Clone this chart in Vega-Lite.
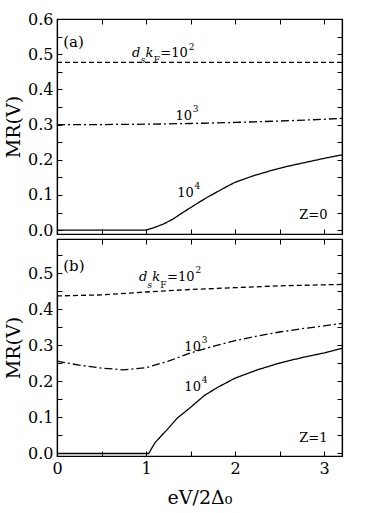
{
  "$schema": "https://vega.github.io/schema/vega-lite/v6.json",
  "padding": {"left": 3, "top": 10, "right": 5, "bottom": 5},
  "spacing": -4,
  "background": "white",
  "config": {
    "font": "DejaVu Serif",
    "view": {"stroke": "black", "strokeWidth": 1.2},
    "text": {"font": "DejaVu Serif"},
    "axis": {
      "domainColor": "black", "domainWidth": 1.2, "tickColor": "black", "tickWidth": 1, "tickSize": -5,
      "labelPadding": 9, "labelFont": "DejaVu Serif", "labelFontSize": 16, "labelColor": "black",
      "titleFont": "DejaVu Serif", "titleFontSize": 19, "titleFontWeight": "normal", "titleColor": "black",
      "grid": false, "labelFlush": false, "labelOverlap": false
    }
  },
  "datasets": {
    "curves": [
      {"panel": "a", "series": "1e2", "x": 0, "y": 0.477},
      {"panel": "a", "series": "1e2", "x": 1.6, "y": 0.477},
      {"panel": "a", "series": "1e2", "x": 3.2, "y": 0.477},
      {"panel": "a", "series": "1e3", "x": 0, "y": 0.300},
      {"panel": "a", "series": "1e3", "x": 0.5, "y": 0.300},
      {"panel": "a", "series": "1e3", "x": 1.0, "y": 0.301},
      {"panel": "a", "series": "1e3", "x": 1.5, "y": 0.303},
      {"panel": "a", "series": "1e3", "x": 2.0, "y": 0.306},
      {"panel": "a", "series": "1e3", "x": 2.5, "y": 0.310},
      {"panel": "a", "series": "1e3", "x": 3.0, "y": 0.315},
      {"panel": "a", "series": "1e3", "x": 3.2, "y": 0.318},
      {"panel": "a", "series": "1e4", "x": 0, "y": 0},
      {"panel": "a", "series": "1e4", "x": 1.0, "y": 0},
      {"panel": "a", "series": "1e4", "x": 1.1, "y": 0.008},
      {"panel": "a", "series": "1e4", "x": 1.2, "y": 0.018},
      {"panel": "a", "series": "1e4", "x": 1.3, "y": 0.031},
      {"panel": "a", "series": "1e4", "x": 1.4, "y": 0.048},
      {"panel": "a", "series": "1e4", "x": 1.5, "y": 0.064},
      {"panel": "a", "series": "1e4", "x": 1.6, "y": 0.080},
      {"panel": "a", "series": "1e4", "x": 1.7, "y": 0.095},
      {"panel": "a", "series": "1e4", "x": 1.8, "y": 0.109},
      {"panel": "a", "series": "1e4", "x": 1.9, "y": 0.123},
      {"panel": "a", "series": "1e4", "x": 2.0, "y": 0.136},
      {"panel": "a", "series": "1e4", "x": 2.2, "y": 0.154},
      {"panel": "a", "series": "1e4", "x": 2.4, "y": 0.169},
      {"panel": "a", "series": "1e4", "x": 2.6, "y": 0.182},
      {"panel": "a", "series": "1e4", "x": 2.8, "y": 0.193},
      {"panel": "a", "series": "1e4", "x": 3.0, "y": 0.204},
      {"panel": "a", "series": "1e4", "x": 3.2, "y": 0.214},
      {"panel": "b", "series": "1e2", "x": 0, "y": 0.437},
      {"panel": "b", "series": "1e2", "x": 0.5, "y": 0.440},
      {"panel": "b", "series": "1e2", "x": 1.0, "y": 0.448},
      {"panel": "b", "series": "1e2", "x": 1.5, "y": 0.455},
      {"panel": "b", "series": "1e2", "x": 2.0, "y": 0.460},
      {"panel": "b", "series": "1e2", "x": 2.5, "y": 0.465},
      {"panel": "b", "series": "1e2", "x": 3.0, "y": 0.468},
      {"panel": "b", "series": "1e2", "x": 3.2, "y": 0.469},
      {"panel": "b", "series": "1e3", "x": 0, "y": 0.256},
      {"panel": "b", "series": "1e3", "x": 0.25, "y": 0.245},
      {"panel": "b", "series": "1e3", "x": 0.5, "y": 0.237},
      {"panel": "b", "series": "1e3", "x": 0.75, "y": 0.232},
      {"panel": "b", "series": "1e3", "x": 1.0, "y": 0.238},
      {"panel": "b", "series": "1e3", "x": 1.25, "y": 0.256},
      {"panel": "b", "series": "1e3", "x": 1.5, "y": 0.279},
      {"panel": "b", "series": "1e3", "x": 1.75, "y": 0.297},
      {"panel": "b", "series": "1e3", "x": 2.0, "y": 0.313},
      {"panel": "b", "series": "1e3", "x": 2.25, "y": 0.326},
      {"panel": "b", "series": "1e3", "x": 2.5, "y": 0.337},
      {"panel": "b", "series": "1e3", "x": 2.75, "y": 0.346},
      {"panel": "b", "series": "1e3", "x": 3.0, "y": 0.354},
      {"panel": "b", "series": "1e3", "x": 3.2, "y": 0.361},
      {"panel": "b", "series": "1e4", "x": 0, "y": 0},
      {"panel": "b", "series": "1e4", "x": 1.03, "y": 0},
      {"panel": "b", "series": "1e4", "x": 1.1, "y": 0.03},
      {"panel": "b", "series": "1e4", "x": 1.24, "y": 0.067},
      {"panel": "b", "series": "1e4", "x": 1.35, "y": 0.098},
      {"panel": "b", "series": "1e4", "x": 1.5, "y": 0.128},
      {"panel": "b", "series": "1e4", "x": 1.65, "y": 0.16},
      {"panel": "b", "series": "1e4", "x": 1.8, "y": 0.183},
      {"panel": "b", "series": "1e4", "x": 2.0, "y": 0.209},
      {"panel": "b", "series": "1e4", "x": 2.25, "y": 0.232},
      {"panel": "b", "series": "1e4", "x": 2.5, "y": 0.251},
      {"panel": "b", "series": "1e4", "x": 2.75, "y": 0.266},
      {"panel": "b", "series": "1e4", "x": 3.0, "y": 0.279},
      {"panel": "b", "series": "1e4", "x": 3.2, "y": 0.292}
    ],
    "ann": [
      {"panel": "a", "kind": "label", "x": 0.07, "y": 0.535, "text": "(a)"},
      {"panel": "a", "kind": "it", "x": 0.843, "y": 0.492, "text": "d"},
      {"panel": "a", "kind": "subit", "x": 0.94, "y": 0.474, "text": "s"},
      {"panel": "a", "kind": "it", "x": 0.995, "y": 0.492, "text": "k"},
      {"panel": "a", "kind": "small", "x": 1.085, "y": 0.474, "text": "F"},
      {"panel": "a", "kind": "rm", "x": 1.16, "y": 0.492, "text": "=10"},
      {"panel": "a", "kind": "small", "x": 1.48, "y": 0.513, "text": "2"},
      {"panel": "a", "kind": "rm", "x": 1.33, "y": 0.314, "text": "10"},
      {"panel": "a", "kind": "small", "x": 1.525, "y": 0.335, "text": "3"},
      {"panel": "a", "kind": "rm", "x": 1.35, "y": 0.095, "text": "10"},
      {"panel": "a", "kind": "small", "x": 1.545, "y": 0.117, "text": "4"},
      {"panel": "a", "kind": "rm", "x": 2.72, "y": 0.033, "text": "Z=0"},
      {"panel": "b", "kind": "label", "x": 0.07, "y": 0.52, "text": "(b)"},
      {"panel": "b", "kind": "it", "x": 0.92, "y": 0.479, "text": "d"},
      {"panel": "b", "kind": "subit", "x": 1.015, "y": 0.46, "text": "s"},
      {"panel": "b", "kind": "it", "x": 1.07, "y": 0.479, "text": "k"},
      {"panel": "b", "kind": "small", "x": 1.16, "y": 0.46, "text": "F"},
      {"panel": "b", "kind": "rm", "x": 1.235, "y": 0.479, "text": "=10"},
      {"panel": "b", "kind": "small", "x": 1.555, "y": 0.5, "text": "2"},
      {"panel": "b", "kind": "rm", "x": 1.43, "y": 0.285, "text": "10"},
      {"panel": "b", "kind": "small", "x": 1.625, "y": 0.307, "text": "3"},
      {"panel": "b", "kind": "rm", "x": 1.43, "y": 0.174, "text": "10"},
      {"panel": "b", "kind": "small", "x": 1.625, "y": 0.196, "text": "4"},
      {"panel": "b", "kind": "rm", "x": 2.72, "y": 0.033, "text": "Z=1"}
    ]
  },
  "vconcat": [
    {
      "width": 285,
      "height": 215,
      "resolve": {"axis": {"x": "independent", "y": "independent"}},
      "layer": [
        {
          "data": {"name": "curves"},
          "transform": [{"filter": "datum.panel == 'a'"}],
          "mark": {"type": "line", "color": "black", "strokeWidth": 1.3},
          "encoding": {
            "x": {"field": "x", "type": "quantitative", "scale": {"domain": [0, 3.2], "nice": false, "zero": false},
                  "axis": {"orient": "bottom", "values": [0, 0.5, 1, 1.5, 2, 2.5, 3], "labels": false, "title": null}},
            "y": {"field": "y", "type": "quantitative", "scale": {"domain": [-0.011, 0.6], "nice": false, "zero": false},
                  "axis": {"orient": "left", "values": [0, 0.05, 0.1, 0.15, 0.2, 0.25, 0.3, 0.35, 0.4, 0.45, 0.5, 0.55, 0.6],
                           "labelExpr": "abs(datum.value*10 - round(datum.value*10)) < 0.001 ? format(datum.value, '.1f') : ''",
                           "title": "MR(V)"}},
            "strokeDash": {"field": "series", "type": "nominal",
                           "scale": {"domain": ["1e2", "1e3", "1e4"], "range": [[5, 3], [8, 3, 2, 3], [1, 0]]}, "legend": null}
          }
        },
        {
          "data": {"name": "curves"},
          "transform": [{"filter": "datum.panel == 'a'"}],
          "mark": {"type": "line", "opacity": 0},
          "encoding": {
            "x": {"field": "x", "type": "quantitative", "scale": {"domain": [0, 3.2], "nice": false, "zero": false},
                  "axis": {"orient": "top", "values": [0, 0.5, 1, 1.5, 2, 2.5, 3], "labels": false, "title": null}},
            "y": {"field": "y", "type": "quantitative", "scale": {"domain": [-0.011, 0.6], "nice": false, "zero": false},
                  "axis": {"orient": "right", "values": [0, 0.05, 0.1, 0.15, 0.2, 0.25, 0.3, 0.35, 0.4, 0.45, 0.5, 0.55, 0.6], "labels": false, "title": null}},
            "detail": {"field": "series"}
          }
        },
        {
          "data": {"name": "ann"},
          "transform": [{"filter": "datum.panel == 'a' && datum.kind == 'label'"}],
          "mark": {"type": "text", "align": "left", "baseline": "middle", "fontSize": 15, "color": "black"},
          "encoding": {
            "x": {"field": "x", "type": "quantitative", "axis": null, "scale": {"domain": [0, 3.2], "nice": false, "zero": false}},
            "y": {"field": "y", "type": "quantitative", "axis": null, "scale": {"domain": [-0.011, 0.6], "nice": false, "zero": false}},
            "text": {"field": "text"}
          }
        },
        {
          "data": {"name": "ann"},
          "transform": [{"filter": "datum.panel == 'a' && datum.kind == 'rm'"}],
          "mark": {"type": "text", "align": "left", "baseline": "alphabetic", "fontSize": 13, "color": "black"},
          "encoding": {
            "x": {"field": "x", "type": "quantitative", "axis": null, "scale": {"domain": [0, 3.2], "nice": false, "zero": false}},
            "y": {"field": "y", "type": "quantitative", "axis": null, "scale": {"domain": [-0.011, 0.6], "nice": false, "zero": false}},
            "text": {"field": "text"}
          }
        },
        {
          "data": {"name": "ann"},
          "transform": [{"filter": "datum.panel == 'a' && datum.kind == 'it'"}],
          "mark": {"type": "text", "align": "left", "baseline": "alphabetic", "fontSize": 13, "fontStyle": "italic", "color": "black"},
          "encoding": {
            "x": {"field": "x", "type": "quantitative", "axis": null, "scale": {"domain": [0, 3.2], "nice": false, "zero": false}},
            "y": {"field": "y", "type": "quantitative", "axis": null, "scale": {"domain": [-0.011, 0.6], "nice": false, "zero": false}},
            "text": {"field": "text"}
          }
        },
        {
          "data": {"name": "ann"},
          "transform": [{"filter": "datum.panel == 'a' && datum.kind == 'subit'"}],
          "mark": {"type": "text", "align": "left", "baseline": "alphabetic", "fontSize": 9, "fontStyle": "italic", "color": "black"},
          "encoding": {
            "x": {"field": "x", "type": "quantitative", "axis": null, "scale": {"domain": [0, 3.2], "nice": false, "zero": false}},
            "y": {"field": "y", "type": "quantitative", "axis": null, "scale": {"domain": [-0.011, 0.6], "nice": false, "zero": false}},
            "text": {"field": "text"}
          }
        },
        {
          "data": {"name": "ann"},
          "transform": [{"filter": "datum.panel == 'a' && datum.kind == 'small'"}],
          "mark": {"type": "text", "align": "left", "baseline": "alphabetic", "fontSize": 9, "color": "black"},
          "encoding": {
            "x": {"field": "x", "type": "quantitative", "axis": null, "scale": {"domain": [0, 3.2], "nice": false, "zero": false}},
            "y": {"field": "y", "type": "quantitative", "axis": null, "scale": {"domain": [-0.011, 0.6], "nice": false, "zero": false}},
            "text": {"field": "text"}
          }
        }
      ]
    },
    {
      "width": 285,
      "height": 217,
      "resolve": {"axis": {"x": "independent", "y": "independent"}},
      "layer": [
        {
          "data": {"name": "curves"},
          "transform": [{"filter": "datum.panel == 'b'"}],
          "mark": {"type": "line", "color": "black", "strokeWidth": 1.3},
          "encoding": {
            "x": {"field": "x", "type": "quantitative", "scale": {"domain": [0, 3.2], "nice": false, "zero": false},
                  "axis": {"orient": "bottom", "values": [0, 0.5, 1, 1.5, 2, 2.5, 3],
                           "labelExpr": "datum.value % 1 == 0 ? format(datum.value, 'd') : ''",
                           "title": "eV/2Δ₀", "titlePadding": 12}},
            "y": {"field": "y", "type": "quantitative", "scale": {"domain": [-0.007, 0.595], "nice": false, "zero": false},
                  "axis": {"orient": "left", "values": [0, 0.05, 0.1, 0.15, 0.2, 0.25, 0.3, 0.35, 0.4, 0.45, 0.5, 0.55],
                           "labelExpr": "abs(datum.value*10 - round(datum.value*10)) < 0.001 ? format(datum.value, '.1f') : ''",
                           "title": "MR(V)"}},
            "strokeDash": {"field": "series", "type": "nominal",
                           "scale": {"domain": ["1e2", "1e3", "1e4"], "range": [[5, 3], [8, 3, 2, 3], [1, 0]]}, "legend": null}
          }
        },
        {
          "data": {"name": "curves"},
          "transform": [{"filter": "datum.panel == 'b'"}],
          "mark": {"type": "line", "opacity": 0},
          "encoding": {
            "x": {"field": "x", "type": "quantitative", "scale": {"domain": [0, 3.2], "nice": false, "zero": false},
                  "axis": {"orient": "top", "values": [0, 0.5, 1, 1.5, 2, 2.5, 3], "labels": false, "title": null}},
            "y": {"field": "y", "type": "quantitative", "scale": {"domain": [-0.007, 0.595], "nice": false, "zero": false},
                  "axis": {"orient": "right", "values": [0, 0.05, 0.1, 0.15, 0.2, 0.25, 0.3, 0.35, 0.4, 0.45, 0.5, 0.55], "labels": false, "title": null}},
            "detail": {"field": "series"}
          }
        },
        {
          "data": {"name": "ann"},
          "transform": [{"filter": "datum.panel == 'b' && datum.kind == 'label'"}],
          "mark": {"type": "text", "align": "left", "baseline": "middle", "fontSize": 15, "color": "black"},
          "encoding": {
            "x": {"field": "x", "type": "quantitative", "axis": null, "scale": {"domain": [0, 3.2], "nice": false, "zero": false}},
            "y": {"field": "y", "type": "quantitative", "axis": null, "scale": {"domain": [-0.007, 0.595], "nice": false, "zero": false}},
            "text": {"field": "text"}
          }
        },
        {
          "data": {"name": "ann"},
          "transform": [{"filter": "datum.panel == 'b' && datum.kind == 'rm'"}],
          "mark": {"type": "text", "align": "left", "baseline": "alphabetic", "fontSize": 13, "color": "black"},
          "encoding": {
            "x": {"field": "x", "type": "quantitative", "axis": null, "scale": {"domain": [0, 3.2], "nice": false, "zero": false}},
            "y": {"field": "y", "type": "quantitative", "axis": null, "scale": {"domain": [-0.007, 0.595], "nice": false, "zero": false}},
            "text": {"field": "text"}
          }
        },
        {
          "data": {"name": "ann"},
          "transform": [{"filter": "datum.panel == 'b' && datum.kind == 'it'"}],
          "mark": {"type": "text", "align": "left", "baseline": "alphabetic", "fontSize": 13, "fontStyle": "italic", "color": "black"},
          "encoding": {
            "x": {"field": "x", "type": "quantitative", "axis": null, "scale": {"domain": [0, 3.2], "nice": false, "zero": false}},
            "y": {"field": "y", "type": "quantitative", "axis": null, "scale": {"domain": [-0.007, 0.595], "nice": false, "zero": false}},
            "text": {"field": "text"}
          }
        },
        {
          "data": {"name": "ann"},
          "transform": [{"filter": "datum.panel == 'b' && datum.kind == 'subit'"}],
          "mark": {"type": "text", "align": "left", "baseline": "alphabetic", "fontSize": 9, "fontStyle": "italic", "color": "black"},
          "encoding": {
            "x": {"field": "x", "type": "quantitative", "axis": null, "scale": {"domain": [0, 3.2], "nice": false, "zero": false}},
            "y": {"field": "y", "type": "quantitative", "axis": null, "scale": {"domain": [-0.007, 0.595], "nice": false, "zero": false}},
            "text": {"field": "text"}
          }
        },
        {
          "data": {"name": "ann"},
          "transform": [{"filter": "datum.panel == 'b' && datum.kind == 'small'"}],
          "mark": {"type": "text", "align": "left", "baseline": "alphabetic", "fontSize": 9, "color": "black"},
          "encoding": {
            "x": {"field": "x", "type": "quantitative", "axis": null, "scale": {"domain": [0, 3.2], "nice": false, "zero": false}},
            "y": {"field": "y", "type": "quantitative", "axis": null, "scale": {"domain": [-0.007, 0.595], "nice": false, "zero": false}},
            "text": {"field": "text"}
          }
        }
      ]
    }
  ]
}
